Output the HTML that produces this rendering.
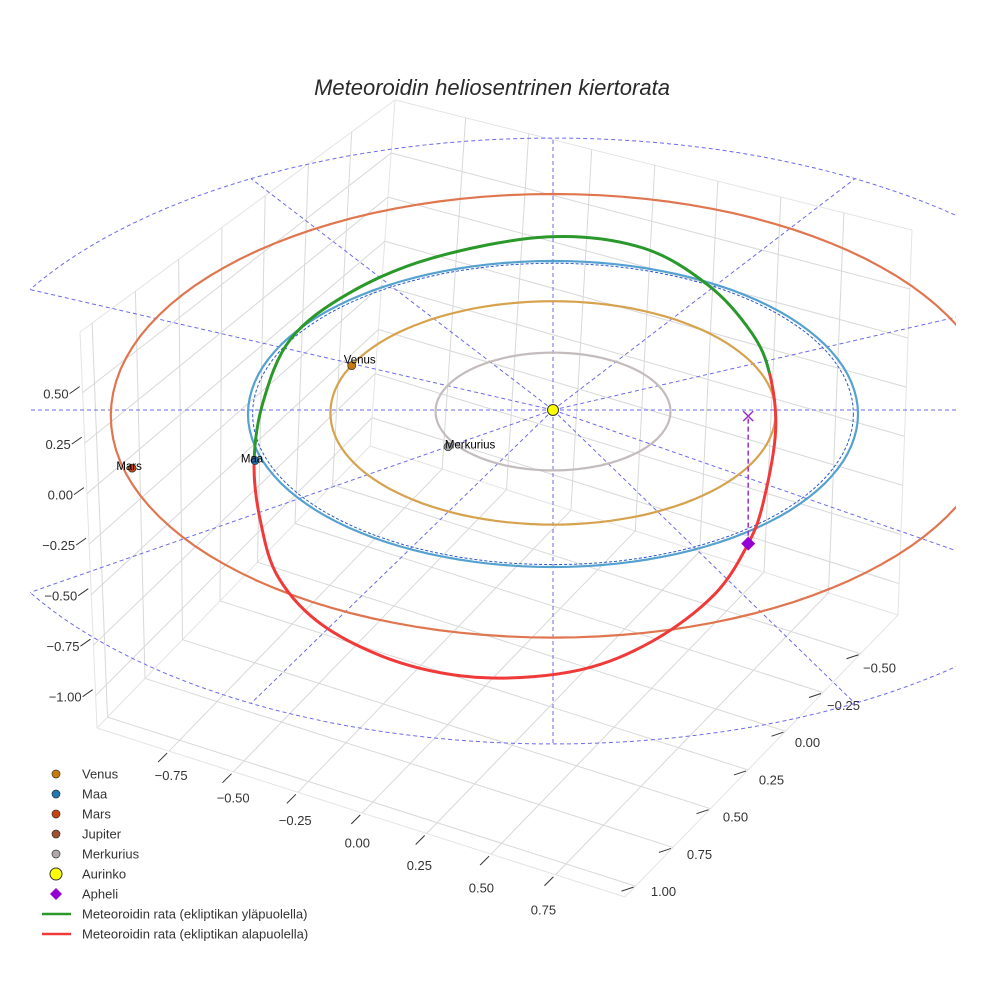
<!DOCTYPE html>
<html><head><meta charset="utf-8"><style>
body{margin:0;background:#fff}
svg{display:block;font-family:"Liberation Sans",sans-serif}
</style></head><body>
<svg id="chart" width="984" height="984" viewBox="0 0 984 984" xmlns="http://www.w3.org/2000/svg">
<defs><clipPath id="clip"><rect x="30" y="0" width="926" height="984"/></clipPath></defs>
<text x="492" y="95" text-anchor="middle" font-size="22" font-style="italic" fill="#2a2a2a">Meteoroidin heliosentrinen kiertorata</text>
<g id="grid"></g>
<g id="plot" clip-path="url(#clip)"></g>
<g id="marks"></g>
<g id="legend"></g>
</svg>
<script>
// ---- data ----
const xTicks = [-0.75,-0.5,-0.25,0,0.25,0.5,0.75];
const yTicks = [1.0,0.75,0.5,0.25,0,-0.25,-0.5];
const zTicks = [0.5,0.25,0,-0.25,-0.5,-0.75,-1.0];
const planetNames = ["Merkurius","Venus","Maa","Mars"];
const orbitRadii = [0.385,0.73,1.0,1.45];
const orbitColors = ["#c4bcbc","#d6a24e","#55a1d0","#e07650"];
const planetX = [-0.344,-0.66,-0.977,-1.38];
const planetY = [0.24,-0.29,0.33,0.38];
const planetColors = ["#a8a8a8","#c87a0a","#1f77b4","#c8440f"];
const refRadius = 1.98;
const spokeAngles = [0,30,60,90,120,150,180,210,240,270,300,330];
const meteorX = [-0.98,-0.95,-0.86,-0.67,-0.40,-0.02,0.29,0.51,0.65,0.71,0.73,0.69,0.64,0.53,0.33,0.09,-0.22,-0.50,-0.75,-0.90,-0.96];
const meteorY = [0.34,0.09,-0.17,-0.37,-0.55,-0.69,-0.67,-0.54,-0.39,-0.24,-0.11,0.01,0.04,0.42,0.82,1.11,1.26,1.26,1.12,0.90,0.62];
const meteorZ = [0,0.15,0.3,0.4,0.45,0.45,0.4,0.28,0.12,0,-0.25,-0.6,-0.85,-0.8,-0.7,-0.6,-0.5,-0.4,-0.3,-0.2,-0.1];
const apheli = [0.64,0.04,-0.85];

// ---- projection ----
function P(x,y,z){return [553+305*x, 410+153*y-150*z];}
const REF_SHIFT=31;
const Ap=[97,728],Dp=[625,897],Bp=[370,446],Cp=[898,615],A=[80,332],B=[395,100],C=[912,230];
const xmin=-1.03,xmax=1.02,ymax=1.07,ymin=-0.75,zmin=-1.16,zmax=0.8;
const fu=x=>(x-xmin)/(xmax-xmin), fv=y=>(ymax-y)/(ymax-ymin), fw=z=>(z-zmin)/(zmax-zmin);
const L=(a,b,t)=>[a[0]+(b[0]-a[0])*t,a[1]+(b[1]-a[1])*t];
function floorPt(u,v){return [Ap[0]+u*(Dp[0]-Ap[0])+v*(Bp[0]-Ap[0]),Ap[1]+u*(Dp[1]-Ap[1])+v*(Bp[1]-Ap[1])];}
const NS="http://www.w3.org/2000/svg";
function el(tag,attrs,parent){const e=document.createElementNS(NS,tag);for(const k in attrs)e.setAttribute(k,attrs[k]);parent.appendChild(e);return e;}
const grid=document.getElementById('grid'),plot=document.getElementById('plot'),marks=document.getElementById('marks'),legend=document.getElementById('legend');
function line(p,q,st,par,name){const e=el('line',{x1:p[0],y1:p[1],x2:q[0],y2:q[1],stroke:st.c,'stroke-width':st.w||1,'stroke-dasharray':st.d||'none'},par);return e;}
const gs={c:'#d8d8d8',w:1};
[[Ap,Dp],[Dp,Cp],[Ap,Bp],[Bp,Cp],[Ap,A],[A,B],[B,Bp],[B,C],[C,Cp]].forEach(e=>line(e[0],e[1],{c:'#e4e4e4',w:1},grid,'box-edge'));
xTicks.forEach(x=>{const u=fu(x);line(floorPt(u,0),floorPt(u,1),gs,grid,'floor-gridline-x');
 line(L(Bp,Cp,u),L(B,C,u),gs,grid,'wall-gridline-x');});
yTicks.forEach(y=>{const v=fv(y);line(floorPt(0,v),floorPt(1,v),gs,grid,'floor-gridline-y');
 line(L(Ap,Bp,v),L(A,B,v),gs,grid,'wall-gridline-y');});
zTicks.forEach(z=>{const w=fw(z);line(L(Ap,A,w),L(Bp,B,w),gs,grid,'wall-gridline-z');line(L(Bp,B,w),L(Cp,C,w),gs,grid,'wall-gridline-z');});
function txt(x,y,s,par,name,anchor,size){const t=el('text',{x:x,y:y,'font-size':size||13,'text-anchor':anchor||'middle',fill:'#333'},par);t.textContent=s;return t;}
const fmt=v=>(v<0?'\u2212':'')+Math.abs(v).toFixed(2);
xTicks.forEach(x=>{const p=floorPt(fu(x),0);line([p[0]-2,p[1]+2],[p[0]-11,p[1]+11],{c:'#333',w:1},grid,'x-tick');
 const f=(x+0.75)/1.5;txt(p[0]+2-14*f,p[1]+29+11*f,fmt(x),grid,'x-tick-label');});
yTicks.forEach(y=>{const p=floorPt(1,fv(y));line([p[0]-2,p[1]+1],[p[0]-14,p[1]+5],{c:'#333',w:1},grid,'y-tick');
 const f=(1-y)/1.5;txt(p[0]+28-9*f,p[1]+10+9*f,fmt(y),grid,'y-tick-label');});
zTicks.forEach(z=>{const p=L(Ap,A,fw(z));line([p[0]-3,p[1]-6],[p[0]-13,p[1]+1],{c:'#333',w:1},grid,'z-tick');
 txt(p[0]-14,p[1]+6,fmt(z),grid,'z-tick-label','end');});

// reference circle and spokes
const refStyle={c:'#6b6bea',w:1,d:'4,3'};
function refPt(a){const p=P(refRadius*Math.cos(a),refRadius*Math.sin(a),0);return [p[0],p[1]+REF_SHIFT];}
let d='';for(let i=0;i<=180;i++){const a=i/180*2*Math.PI;const p=refPt(a);d+=(i?'L':'M')+p[0].toFixed(1)+','+p[1].toFixed(1);}
let e=el('path',{d:d,fill:'none',stroke:refStyle.c,'stroke-width':1,'stroke-dasharray':refStyle.d},plot);

const sun=P(0,0,0);
spokeAngles.forEach(a=>{const r=a*Math.PI/180;let q=refPt(r);if(a===0||a===180)q=[q[0],sun[1]];line(sun,q,refStyle,plot,'reference-spoke');});

// planet orbits
function orbitPath(r){let s='';for(let i=0;i<=120;i++){const a=i/120*2*Math.PI;const p=P(r*Math.cos(a),r*Math.sin(a),0);s+=(i?'L':'M')+p[0].toFixed(1)+','+(p[1]+4*r).toFixed(1);}return s;}
orbitRadii.forEach((r,i)=>{const o=el('path',{d:orbitPath(r),fill:'none',stroke:orbitColors[i],'stroke-width':2.2},plot);
 });
e=el('path',{d:orbitPath(0.985),fill:'none',stroke:'#2b58c8','stroke-width':1,'stroke-dasharray':'3,2'},plot);


// meteoroid orbit (Catmull-Rom)
const mp=meteorX.map((x,i)=>P(x,meteorY[i],meteorZ[i]));const n=mp.length;
function seg(i){const p0=mp[(i-1+n)%n],p1=mp[i],p2=mp[(i+1)%n],p3=mp[(i+2)%n];
 return 'C'+(p1[0]+(p2[0]-p0[0])/6).toFixed(1)+','+(p1[1]+(p2[1]-p0[1])/6).toFixed(1)+' '+(p2[0]-(p3[0]-p1[0])/6).toFixed(1)+','+(p2[1]-(p3[1]-p1[1])/6).toFixed(1)+' '+p2[0].toFixed(1)+','+p2[1].toFixed(1);}
let split=meteorZ.findIndex((z,i)=>i>0&&z<=0);
let gd='M'+mp[0][0]+','+mp[0][1];for(let i=0;i<split;i++)gd+=seg(i);
let rd='M'+mp[split][0]+','+mp[split][1];for(let i=split;i<n;i++)rd+=seg(i);
e=el('path',{d:gd,fill:'none',stroke:'#2a982a','stroke-width':3},plot);

e=el('path',{d:rd,fill:'none',stroke:'#f03a3a','stroke-width':3},plot);


// apheli
const ap=P(apheli[0],apheli[1],apheli[2]),apg=P(apheli[0],apheli[1],0);
line(ap,apg,{c:'#9a2fc8',w:1.5,d:'5,3'},marks,'apheli-dropline');
e=el('path',{d:`M${apg[0]-5},${apg[1]-5}L${apg[0]+5},${apg[1]+5}M${apg[0]+5},${apg[1]-5}L${apg[0]-5},${apg[1]+5}`,stroke:'#9a2fc8','stroke-width':1.5},marks);

e=el('path',{d:`M${ap[0]},${ap[1]-7}L${ap[0]+7},${ap[1]}L${ap[0]},${ap[1]+7}L${ap[0]-7},${ap[1]}Z`,fill:'#9400d3'},marks);


// planets
planetNames.forEach((nm,i)=>{const p=P(planetX[i],planetY[i],0);
 const c=el('circle',{cx:p[0],cy:p[1],r:4,fill:planetColors[i],stroke:'#333','stroke-width':0.7},marks);
 
 const t=el('text',{x:p[0]+(i===0?22:i===1?8:-3),y:p[1]+(i===1?-2:2),'font-size':11.5,'text-anchor':'middle',fill:'#000'},marks);t.textContent=nm;
 });
e=el('circle',{cx:sun[0],cy:sun[1],r:5.5,fill:'#ffff00',stroke:'#333','stroke-width':1},marks);


// legend
const legItems=[['Venus','dot','#c87a0a'],['Maa','dot','#1f77b4'],['Mars','dot','#c8440f'],['Jupiter','dot','#a0522d'],['Merkurius','dot','#b0a8a8'],['Aurinko','sun','#ffff00'],['Apheli','dia','#9400d3'],['Meteoroidin rata (ekliptikan yläpuolella)','line','#2a982a'],['Meteoroidin rata (ekliptikan alapuolella)','line','#f03a3a']];
legItems.forEach((it,i)=>{const y=774+i*20;const g=el('g',{},legend);
 
 if(it[1]==='dot')el('circle',{cx:56,cy:y,r:4,fill:it[2],stroke:'#333','stroke-width':0.7},g);
 else if(it[1]==='sun')el('circle',{cx:56,cy:y,r:6,fill:it[2],stroke:'#333','stroke-width':1},g);
 else if(it[1]==='dia')el('path',{d:`M56,${y-6}L62,${y}L56,${y+6}L50,${y}Z`,fill:it[2]},g);
 else el('line',{x1:42,y1:y,x2:71,y2:y,stroke:it[2],'stroke-width':2.5},g);
 const t=el('text',{x:82,y:y+4.5,'font-size':13,fill:'#333'},g);t.textContent=it[0];});
</script>
</body></html>
